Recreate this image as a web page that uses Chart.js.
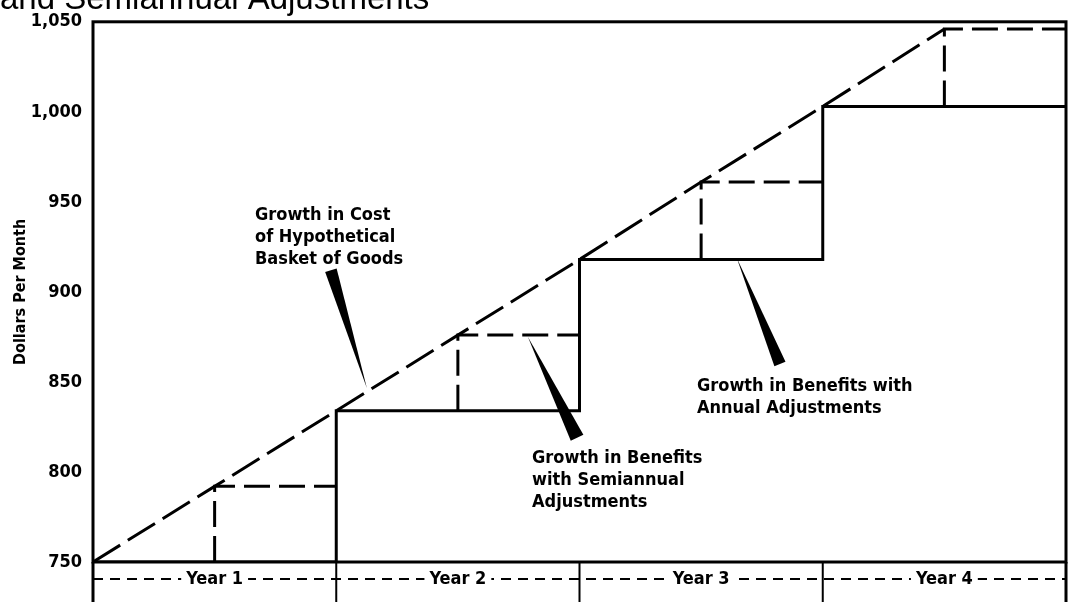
<!DOCTYPE html>
<html lang="en">
<head>
  <meta charset="UTF-8"/>
  <title>Benefits with Annual and Semiannual Adjustments</title>
  <script src="https://cdn.jsdelivr.net/npm/chart.js"></script>
  <style>
    html, body { margin:0; padding:0; background:#fff; }
    #wrap { width:1069px; height:602px; }
  </style>
</head>
<body>
<div id="wrap"><canvas id="benefitChart" width="1069" height="602"></canvas></div>

<script>
/* ========== data ========== */
const yearLabels   = ["Year 1", "Year 2", "Year 3", "Year 4"];
const halfYears    = [0, 0.5, 1, 1.5, 2, 2.5, 3, 3.5];
const costValues   = [750, 792, 834, 876, 918, 961, 1003, 1046];  // cost of basket
const annualLevels = [750, 834, 918, 1003];                         // benefit for each year
const semiLevels   = [792, 876, 961, 1046];                         // benefit, 2nd half of each year
const yTicks       = [750, 800, 850, 900, 950, 1000, 1050];

const FONT = "'DejaVu Sans Condensed', 'Liberation Sans Narrow', sans-serif";

// text labels + pointer wedges (data units)
const notes = [
  { lines: ["Growth in Cost", "of Hypothetical", "Basket of Goods"], x: 0.666, y: 940,
    tip: [1.126, 846.5], base: [0.978, 912], w: 12 },
  { lines: ["Growth in Benefits", "with Semiannual", "Adjustments"], x: 1.805, y: 805,
    tip: [1.788, 875], base: [1.990, 819], w: 14 },
  { lines: ["Growth in Benefits with", "Annual Adjustments"], x: 2.483, y: 845,
    tip: [2.647, 918.7], base: [2.824, 860], w: 12 }
];

// build points
const costPts = halfYears.map((x, i) => ({ x: x, y: costValues[i] }));

const annualPts = [];
annualLevels.forEach((v, i) => {
  annualPts.push({ x: i, y: v });
  annualPts.push({ x: i + 1, y: v });
});

const semiPts = [];
semiLevels.forEach((v, i) => {
  semiPts.push({ x: i + 0.5, y: annualLevels[i] });
  semiPts.push({ x: i + 0.5, y: v });
  semiPts.push({ x: i + 1, y: v });
  semiPts.push({ x: i + 1, y: null });   // break
});

/* ========== plugins ========== */
// dashed year line under the axis (drawn before the scales so labels sit on top)
const underAxis = {
  id: "underAxis",
  beforeDraw(chart) {
    const { ctx, chartArea } = chart;
    ctx.save();
    ctx.strokeStyle = "#000";
    ctx.lineWidth = 2;
    ctx.setLineDash([10, 7]);
    ctx.beginPath();
    ctx.moveTo(chartArea.left, 579);
    ctx.lineTo(chartArea.right, 579);
    ctx.stroke();
    ctx.restore();

    // title, cut off by the top edge
    ctx.save();
    ctx.fillStyle = "#000";
    ctx.font = "33px 'Liberation Sans', Arial, sans-serif";
    ctx.textBaseline = "alphabetic";
    ctx.fillText("and Semiannual Adjustments", 0, 9);
    ctx.restore();
  }
};

const frame = {
  id: "frame",
  afterDraw(chart) {
    const { ctx, chartArea } = chart;
    const xs = chart.scales.x, ys = chart.scales.y;
    const H = chart.height;
    ctx.save();
    ctx.strokeStyle = "#000";
    ctx.fillStyle = "#000";

    // box
    ctx.lineWidth = 3;
    ctx.strokeRect(chartArea.left, chartArea.top, chartArea.right - chartArea.left, chartArea.bottom - chartArea.top);
    ctx.beginPath();
    ctx.moveTo(chartArea.left, chartArea.bottom);  ctx.lineTo(chartArea.left, H);
    ctx.moveTo(chartArea.right, chartArea.bottom); ctx.lineTo(chartArea.right, H);
    ctx.stroke();

    // year boundaries below the axis
    ctx.lineWidth = 2;
    ctx.beginPath();
    for (let i = 1; i < yearLabels.length; i++) {
      const px = xs.getPixelForValue(i);
      ctx.moveTo(px, chartArea.bottom);
      ctx.lineTo(px, H);
    }
    ctx.stroke();

    // notes
    ctx.font = "bold 18px " + FONT;
    ctx.textBaseline = "alphabetic";
    notes.forEach(n => {
      const lx = xs.getPixelForValue(n.x), ly = ys.getPixelForValue(n.y);
      n.lines.forEach((t, k) => ctx.fillText(t, lx, ly + k * 22));

      const tx = xs.getPixelForValue(n.tip[0]),  ty = ys.getPixelForValue(n.tip[1]);
      const bx = xs.getPixelForValue(n.base[0]), by = ys.getPixelForValue(n.base[1]);
      const dx = bx - tx, dy = by - ty, len = Math.hypot(dx, dy);
      const nx = -dy / len * n.w / 2, ny = dx / len * n.w / 2;
      ctx.beginPath();
      ctx.moveTo(tx, ty);
      ctx.lineTo(bx + nx, by + ny);
      ctx.lineTo(bx - nx, by - ny);
      ctx.closePath();
      ctx.fill();
    });
    ctx.restore();
  }
};

/* ========== chart ========== */
const ctx = document.getElementById("benefitChart").getContext("2d");
new Chart(ctx, {
  type: "line",
  data: {
    datasets: [
      { label: "Annual", data: annualPts, borderColor: "#000", borderWidth: 3,
        pointRadius: 0, borderJoinStyle: "miter" },
      { label: "Semiannual", data: semiPts, borderColor: "#000", borderWidth: 3,
        borderDash: [26, 9], pointRadius: 0, spanGaps: false, borderJoinStyle: "miter" },
      { label: "Cost", data: costPts, borderColor: "#000", borderWidth: 3,
        borderDash: [32, 9], pointRadius: 0 }
    ]
  },
  options: {
    responsive: false,
    animation: false,
    events: [],
    layout: { padding: { top: 18, right: 3, left: 0, bottom: 0 } },
    plugins: { legend: { display: false }, tooltip: { enabled: false } },
    scales: {
      x: {
        type: "linear", min: 0, max: 4,
        grid: { display: false, drawTicks: false },
        border: { display: false },
        afterBuildTicks: s => { s.ticks = yearLabels.map((_, i) => ({ value: i + 0.5 })); },
        afterFit: s => { s.height = 40; },
        ticks: {
          autoSkip: false, maxRotation: 0, padding: 7, color: "#000",
          font: { family: FONT, size: 18, weight: "bold" },
          showLabelBackdrop: true, backdropColor: "#fff",
          backdropPadding: { top: 0, bottom: 0, left: 5, right: 5 },
          callback: (v, i) => yearLabels[i]
        }
      },
      y: {
        min: 750, max: 1050,
        grid: { display: false, drawTicks: false },
        border: { display: false },
        afterBuildTicks: s => { s.ticks = yTicks.map(v => ({ value: v })); },
        afterFit: s => { s.width = 93; },
        ticks: {
          padding: 11, color: "#000",
          font: { family: FONT, size: 18, weight: "bold" },
          callback: v => v.toLocaleString("en-US")
        },
        title: {
          display: true, text: "Dollars Per Month", color: "#000",
          font: { family: FONT, size: 16, weight: "bold" },
          padding: { top: 11, bottom: 0 }
        }
      }
    }
  },
  plugins: [underAxis, frame]
});
</script>
</body>
</html>
